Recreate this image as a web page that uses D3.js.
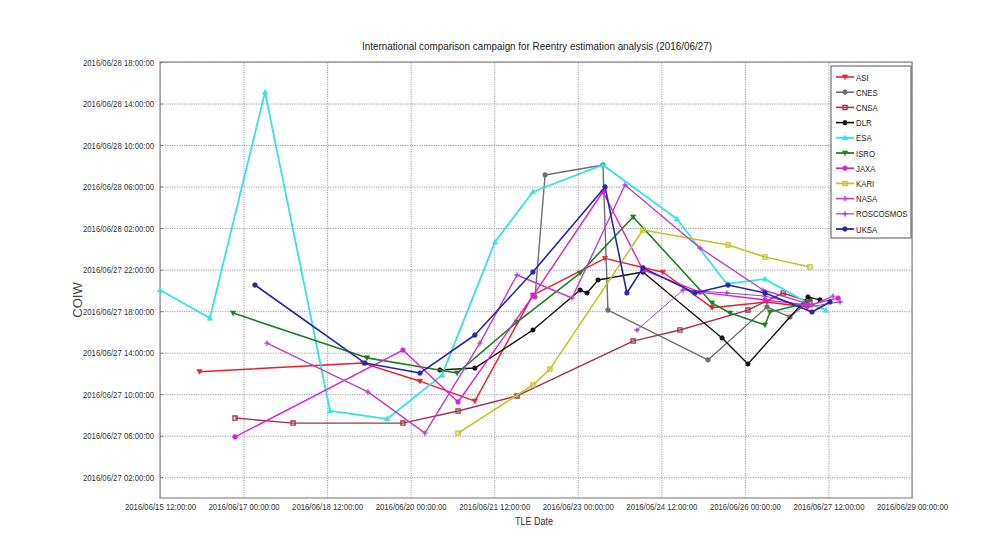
<!DOCTYPE html>
<html><head><meta charset="utf-8">
<script src="https://cdn.jsdelivr.net/npm/d3@7"></script>
<style>
html,body{margin:0;padding:0;background:#fff;}
svg{display:block;}
text{font-family:"Liberation Sans Narrow","Liberation Sans",Arial,sans-serif;}
</style></head>
<body>
<svg id="chart" width="998" height="548"></svg>
<script>
// ---- data (x: TLE date, y: COIW) ----
const xTicks = ["2016/06/15 12:00","2016/06/17 00:00","2016/06/18 12:00","2016/06/20 00:00","2016/06/21 12:00","2016/06/23 00:00","2016/06/24 12:00","2016/06/26 00:00","2016/06/27 12:00","2016/06/29 00:00"];
const yTicks = ["2016/06/27 02:00","2016/06/27 06:00","2016/06/27 10:00","2016/06/27 14:00","2016/06/27 18:00","2016/06/27 22:00","2016/06/28 02:00","2016/06/28 06:00","2016/06/28 10:00","2016/06/28 14:00","2016/06/28 18:00"];

const ASI = [["06/16 05:00","06/27 12:10"],["06/19 03:30","06/27 13:00"],["06/20 04:00","06/27 11:15"],["06/21 03:40","06/27 09:20"],["06/22 04:40","06/27 19:33"],["06/23 11:45","06/27 23:05"],["06/24 12:40","06/27 21:45"],["06/25 09:50","06/27 18:20"],["06/26 09:30","06/27 18:53"],["06/27 02:45","06/27 18:24"]];
const CNES = [["06/22 05:35","06/27 19:22"],["06/22 09:55","06/28 07:07"],["06/23 10:50","06/28 08:05"],["06/23 13:00","06/27 18:06"],["06/25 08:05","06/27 13:18"],["06/26 09:30","06/27 18:24"],["06/26 19:25","06/27 17:26"],["06/27 04:00","06/27 19:05"]];
const CNSA = [["06/16 20:20","06/27 07:42"],["06/17 21:20","06/27 07:13"],["06/19 20:40","06/27 07:13"],["06/20 20:25","06/27 08:23"],["06/21 21:50","06/27 09:50"],["06/23 23:50","06/27 15:07"],["06/24 20:00","06/27 16:11"],["06/26 01:20","06/27 18:06"],["06/26 16:30","06/27 19:45"],["06/27 04:00","06/27 18:53"]];
const DLR = [["06/20 12:35","06/27 12:20"],["06/21 03:40","06/27 12:31"],["06/22 04:40","06/27 16:11"],["06/23 01:00","06/27 20:02"],["06/23 04:00","06/27 19:45"],["06/23 08:45","06/27 21:00"],["06/24 04:05","06/27 21:46"],["06/25 14:10","06/27 15:25"],["06/26 01:20","06/27 12:55"],["06/27 03:10","06/27 19:22"],["06/27 08:20","06/27 19:05"]];
const ESA = [["06/15 12:00","06/27 20:02"],["06/16 09:30","06/27 17:20"],["06/17 09:15","06/28 15:06"],["06/18 13:15","06/27 08:23"],["06/19 13:50","06/27 07:37"],["06/20 13:30","06/27 11:50"],["06/21 12:20","06/28 00:40"],["06/22 04:40","06/28 05:30"],["06/23 10:50","06/28 08:05"],["06/24 18:45","06/28 02:53"],["06/25 16:15","06/27 20:37"],["06/26 08:40","06/27 21:06"],["06/27 03:10","06/27 18:47"],["06/27 10:55","06/27 18:06"]];
const ISRO = [["06/16 19:30","06/27 17:49"],["06/19 05:10","06/27 13:30"],["06/20 20:00","06/27 12:02"],["06/21 21:50","06/27 16:57"],["06/23 01:00","06/27 21:40"],["06/23 23:50","06/28 03:04"],["06/25 09:50","06/27 18:47"],["06/25 17:35","06/27 17:49"],["06/26 08:40","06/27 16:40"],["06/26 10:50","06/27 17:55"],["06/27 02:45","06/27 18:47"]];
const JAXA = [["06/16 20:20","06/27 05:53"],["06/19 20:40","06/27 14:15"],["06/20 20:25","06/27 09:15"],["06/22 04:40","06/27 19:28"],["06/23 10:50","06/28 05:30"],["06/24 04:05","06/27 21:58"],["06/25 04:40","06/27 19:50"],["06/26 08:40","06/27 19:05"],["06/27 03:10","06/27 18:35"],["06/27 16:10","06/27 19:15"]];
const KARI = [["06/20 20:25","06/27 06:15"],["06/22 04:40","06/27 10:53"],["06/22 12:00","06/27 12:25"],["06/24 04:05","06/28 01:49"],["06/25 16:45","06/28 00:22"],["06/26 08:40","06/27 23:13"],["06/27 04:00","06/27 22:15"]];
const NASA = [["06/17 10:05","06/27 14:55"],["06/19 05:35","06/27 10:13"],["06/20 06:10","06/27 06:15"],["06/21 05:50","06/27 14:55"],["06/21 21:50","06/27 21:29"],["06/22 21:30","06/27 19:16"],["06/23 20:20","06/28 06:09"],["06/25 04:40","06/28 00:05"],["06/26 07:50","06/27 20:02"],["06/27 04:55","06/27 18:35"],["06/27 14:00","06/27 19:27"]];
const ROSCOSMOS = [["06/24 01:30","06/27 16:11"],["06/24 21:20","06/27 20:02"],["06/25 16:15","06/27 19:45"],["06/26 08:40","06/27 19:27"],["06/27 03:10","06/27 18:24"],["06/27 17:00","06/27 18:53"]];
const UKSA = [["06/17 04:55","06/27 20:31"],["06/19 04:20","06/27 13:00"],["06/20 04:00","06/27 12:02"],["06/21 03:40","06/27 15:42"],["06/22 04:40","06/27 21:46"],["06/23 11:45","06/28 05:58"],["06/23 21:10","06/27 19:45"],["06/24 04:05","06/27 22:10"],["06/25 02:30","06/27 19:45"],["06/25 16:45","06/27 20:31"],["06/26 08:40","06/27 19:45"],["06/27 04:55","06/27 17:55"],["06/27 12:40","06/27 18:53"]];

const seriesNames = ["ASI","CNES","CNSA","DLR","ESA","ISRO","JAXA","KARI","NASA","ROSCOSMOS","UKSA"];
const seriesData = [ASI,CNES,CNSA,DLR,ESA,ISRO,JAXA,KARI,NASA,ROSCOSMOS,UKSA];
const seriesColors = ["#ee1c2a","#6e6e6e","#a3324e","#111111","#33e3e3","#1d7f22","#e01ed8","#c4c424","#c23ccc","#9b46c8","#2626a8"];
const seriesMarkers = ["v","o","s","*","^","v","o","s","+","+","o"];
const seriesWidths = [1.4,1.4,1.4,1.4,1.8,1.6,1.4,1.6,1.4,1.0,1.6];

// ---- chart ----
const svg = d3.select("#chart");
const L=160,R=912,T=62,B=498;
const pt = d3.timeParse("%Y/%m/%d %H:%M");
const p = s => pt("2016/"+s);
const fmt = d3.timeFormat("%Y/%m/%d %H:%M:%S");

const x = d3.scaleTime().domain([pt("2016/06/15 12:00"), pt("2016/06/29 00:00")]).range([L,R]);
const y = d3.scaleTime().domain([pt("2016/06/27 00:00"), pt("2016/06/28 18:00")]).range([B,T]);

// grid
const gx = svg.append("g").attr("transform",`translate(0,${B})`)
  .call(d3.axisBottom(x).tickValues(xTicks.map(pt)).tickSize(-(B-T)).tickFormat(""));
gx.selectAll("line").attr("stroke","#9a9a9a").attr("stroke-dasharray","1.2,1.2");
gx.select(".domain").remove();
const gy = svg.append("g").attr("transform",`translate(${L},0)`)
  .call(d3.axisLeft(y).tickValues(yTicks.map(pt)).tickSize(-(R-L)).tickFormat(""));
gy.selectAll("line").attr("stroke","#9a9a9a").attr("stroke-dasharray","1.2,1.2");
gy.select(".domain").remove();

// box
svg.append("rect").attr("x",L).attr("y",T).attr("width",R-L).attr("height",B-T)
  .attr("fill","none").attr("stroke","#8a8a8a").attr("stroke-width",1.2);

// tick labels
const ax = svg.append("g").attr("transform",`translate(0,${B})`)
  .call(d3.axisBottom(x).tickValues(xTicks.map(pt)).tickSize(0).tickPadding(5).tickFormat(fmt));
ax.select(".domain").remove();
ax.selectAll("text").attr("font-size",9.5).attr("fill","#333").attr("textLength",71).attr("lengthAdjust","spacingAndGlyphs");
const ay = svg.append("g").attr("transform",`translate(${L},0)`)
  .call(d3.axisLeft(y).tickValues(yTicks.map(pt)).tickSize(4).tickPadding(2).tickFormat(fmt));
ay.select(".domain").remove();
ay.selectAll("line").attr("stroke","#777").attr("x2",3);
ay.selectAll("text").attr("font-size",9.5).attr("fill","#333").attr("textLength",71).attr("lengthAdjust","spacingAndGlyphs");

// markers
function markerPath(m, s){
  switch(m){
    case "v": return `M${-s},${-s*0.8}L${s},${-s*0.8}L0,${s}Z`;
    case "^": return `M${-s},${s*0.8}L${s},${s*0.8}L0,${-s}Z`;
    case "s": return `M${-s*0.8},${-s*0.8}H${s*0.8}V${s*0.8}H${-s*0.8}Z`;
    case "+": return `M${-s},0H${s}M0,${-s}V${s}`;
    case "*": return `M${-s},0H${s}M0,${-s}V${s}M${-s*0.7},${-s*0.7}L${s*0.7},${s*0.7}M${-s*0.7},${s*0.7}L${s*0.7},${-s*0.7}`;
    default: return d3.symbol(d3.symbolCircle, s*s*2.6)();
  }
}
function drawMarker(g, m, c, cx, cy, s){
  const path = g.append("path").attr("d",markerPath(m,s)).attr("transform",`translate(${cx},${cy})`);
  if(m==="+"||m==="*") path.attr("fill","none").attr("stroke",c).attr("stroke-width",1.4);
  else if(m==="s") path.attr("fill","none").attr("stroke",c).attr("stroke-width",1.3);
  else path.attr("fill",c).attr("stroke",c).attr("stroke-width",0.6);
}

const line = d3.line().x(d=>x(p(d[0]))).y(d=>y(p(d[1])));
const plot = svg.append("g");
seriesData.forEach((data,i)=>{
  const g = plot.append("g");
  g.append("path").datum(data).attr("d",line).attr("fill","none")
    .attr("stroke",seriesColors[i]).attr("stroke-width",seriesWidths[i]).attr("stroke-linejoin","round");
  data.forEach(d=>drawMarker(g, seriesMarkers[i], seriesColors[i], x(p(d[0])), y(p(d[1])), 2.6));
});

// title & axis labels
svg.append("text").attr("x",537).attr("y",50).attr("text-anchor","middle").attr("font-size",11)
  .attr("fill","#222").attr("textLength",350).attr("lengthAdjust","spacingAndGlyphs")
  .text("International comparison campaign for Reentry estimation analysis (2016/06/27)");
svg.append("text").attr("x",534).attr("y",525).attr("text-anchor","middle").attr("font-size",11.5)
  .attr("fill","#333").attr("textLength",38).attr("lengthAdjust","spacingAndGlyphs").text("TLE Date");
svg.append("text").attr("transform","translate(82,300) rotate(-90)").attr("text-anchor","middle")
  .attr("font-size",13).attr("fill","#444").text("COIW");

// legend
const lg = svg.append("g");
lg.append("rect").attr("x",831).attr("y",66).attr("width",80).attr("height",172)
  .attr("fill","#fff").attr("stroke","#555").attr("stroke-width",1);
seriesNames.forEach((n,i)=>{
  const yy = 77 + i*15.2;
  lg.append("line").attr("x1",836).attr("x2",854).attr("y1",yy).attr("y2",yy)
    .attr("stroke",seriesColors[i]).attr("stroke-width",seriesWidths[i]+0.2);
  drawMarker(lg, seriesMarkers[i], seriesColors[i], 845, yy, 2.6);
  const t = lg.append("text").attr("x",856).attr("y",yy+3.5).attr("font-size",9.5).attr("fill","#222").text(n);
  const len = t.node().getComputedTextLength();
  t.attr("textLength",len*0.82).attr("lengthAdjust","spacingAndGlyphs");
});
</script>
</body></html>
